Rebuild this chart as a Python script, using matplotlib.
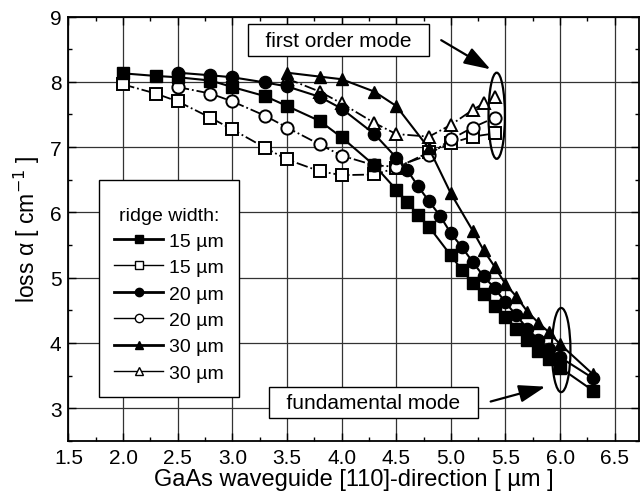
import matplotlib
matplotlib.use("Agg")
import matplotlib.pyplot as plt
from matplotlib.patches import Ellipse
from matplotlib.lines import Line2D
from matplotlib.ticker import MultipleLocator, FormatStrFormatter

plt.rcParams['font.family'] = ['Liberation Sans', 'DejaVu Sans']

# 15 um, fundamental mode (filled squares)
sq_f_x = [2.0, 2.3, 2.5, 2.8, 3.0, 3.3, 3.5, 3.8, 4.0, 4.3, 4.5, 4.6, 4.7, 4.8,
          5.0, 5.1, 5.2, 5.3, 5.4, 5.5, 5.6, 5.7, 5.8, 5.9, 6.0, 6.3]
sq_f_y = [8.13, 8.09, 8.07, 8.02, 7.92, 7.78, 7.63, 7.40, 7.15, 6.72, 6.35, 6.16, 5.96, 5.78,
          5.34, 5.12, 4.92, 4.75, 4.57, 4.39, 4.22, 4.04, 3.88, 3.75, 3.62, 3.27]
# 15 um, first order mode (open squares)
sq_o_x = [2.0, 2.3, 2.5, 2.8, 3.0, 3.3, 3.5, 3.8, 4.0, 4.3, 4.5, 4.8, 5.0, 5.2, 5.4]
sq_o_y = [7.96, 7.82, 7.70, 7.45, 7.27, 6.99, 6.81, 6.63, 6.57, 6.58, 6.68, 6.92, 7.06, 7.16, 7.21]
# 20 um, fundamental (filled circles)
ci_f_x = [2.5, 2.8, 3.0, 3.3, 3.5, 3.8, 4.0, 4.3, 4.5, 4.6, 4.7, 4.8, 4.9, 5.0, 5.1,
          5.2, 5.3, 5.4, 5.5, 5.6, 5.7, 5.8, 5.9, 6.0, 6.3]
ci_f_y = [8.14, 8.10, 8.07, 7.99, 7.93, 7.77, 7.59, 7.20, 6.84, 6.65, 6.40, 6.17, 5.95, 5.68, 5.47,
          5.24, 5.02, 4.84, 4.62, 4.42, 4.22, 4.05, 3.90, 3.78, 3.46]
# 20 um, first order (open circles)
ci_o_x = [2.5, 2.8, 3.0, 3.3, 3.5, 3.8, 4.0, 4.3, 4.5, 4.8, 5.0, 5.2, 5.4]
ci_o_y = [7.92, 7.82, 7.70, 7.48, 7.30, 7.04, 6.87, 6.72, 6.70, 6.88, 7.12, 7.30, 7.45]
# 30 um, fundamental (filled triangles)
tri_f_x = [3.5, 3.8, 4.0, 4.3, 4.5, 4.8, 5.0, 5.2, 5.3, 5.4, 5.5, 5.6, 5.7, 5.8, 5.9, 6.0, 6.3]
tri_f_y = [8.14, 8.08, 8.04, 7.85, 7.63, 6.98, 6.29, 5.72, 5.42, 5.17, 4.90, 4.71, 4.48, 4.31,
           4.16, 3.98, 3.52]
# 30 um, first order (open triangles)
tri_o_x = [3.5, 3.8, 4.0, 4.3, 4.5, 4.8, 5.0, 5.2, 5.3, 5.4]
tri_o_y = [8.05, 7.85, 7.67, 7.37, 7.20, 7.16, 7.34, 7.57, 7.67, 7.77]

labels = ['15 µm', '15 µm', '20 µm', '20 µm', '30 µm', '30 µm']

fig = plt.figure(figsize=(6.4, 5.02), dpi=100)
ax = fig.add_axes([0.107, 0.120, 0.891, 0.845])

ms = 8.8
open_kw = dict(color='black', mfc='white', mec='black', mew=1.4, lw=1.3, ls='-.', ms=ms)
fill_kw = dict(color='black', mfc='black', mec='black', lw=1.5, ls='-', ms=ms)

ax.plot(sq_o_x, sq_o_y, marker='s', **open_kw)
ax.plot(ci_o_x, ci_o_y, marker='o', **open_kw)
ax.plot(tri_o_x, tri_o_y, marker='^', **open_kw)
ax.plot(sq_f_x, sq_f_y, marker='s', **fill_kw)
ax.plot(ci_f_x, ci_f_y, marker='o', **fill_kw)
ax.plot(tri_f_x, tri_f_y, marker='^', **fill_kw)

ax.set_xlim(1.5, 6.72)
ax.set_ylim(2.5, 9)
ax.xaxis.set_major_locator(MultipleLocator(0.5))
ax.xaxis.set_minor_locator(MultipleLocator(0.25))
ax.yaxis.set_major_locator(MultipleLocator(1))
ax.yaxis.set_minor_locator(MultipleLocator(0.5))
ax.xaxis.set_major_formatter(FormatStrFormatter('%.1f'))
ax.tick_params(which='both', direction='in', top=True, right=True, labelsize=15)
ax.tick_params(which='major', length=6, width=1.0, pad=5)
ax.tick_params(which='minor', length=3, width=1.0)
ax.grid(True, which='major', color='#333333', lw=0.9)
for s in ax.spines.values():
    s.set_linewidth(1.3)

ax.set_xlabel('GaAs waveguide [110]-direction [ µm ]', fontsize=17, labelpad=1)
ax.set_ylabel('loss α [ cm$^{-1}$ ]', fontsize=16.5, labelpad=6)

# ellipses around the modes
ax.add_patch(Ellipse((5.42, 7.48), 0.15, 1.32, fill=False, ec='black', lw=1.6, zorder=5))
ax.add_patch(Ellipse((6.01, 3.89), 0.17, 1.29, fill=False, ec='black', lw=1.6, zorder=5))

box = dict(boxstyle='square,pad=0.3', fc='white', ec='black', lw=1.0)
ax.text(3.97, 8.64, '  first order mode  ', fontsize=15, ha='center', va='center',
        bbox=box, zorder=6)
ax.text(4.29, 3.09, '  fundamental mode  ', fontsize=15, ha='center', va='center',
        bbox=box, zorder=6)
arrow = dict(arrowstyle='-|>,head_length=0.9,head_width=0.3', color='black', lw=1.6,
             mutation_scale=18)
ax.annotate('', xy=(5.385, 8.17), xytext=(4.89, 8.66), arrowprops=arrow, zorder=6)
ax.annotate('', xy=(5.89, 3.34), xytext=(5.34, 3.09), arrowprops=arrow, zorder=6)

handles = []
for m, filled in [('s', True), ('s', False), ('o', True), ('o', False), ('^', True), ('^', False)]:
    handles.append(Line2D([], [], color='black', marker=m, ms=6,
                          mfc='black' if filled else 'white', mec='black',
                          lw=2.0 if filled else 1.0))
leg = ax.legend(handles, labels, title='\nridge width:', loc='upper left',
                bbox_to_anchor=(0.036, 0.638), fontsize=14, title_fontsize=14,
                frameon=True, fancybox=False, edgecolor='black', framealpha=1,
                handlelength=2.5, handletextpad=0.3, labelspacing=0.45, borderpad=0.8)
leg.get_title().set_linespacing(0.55)
leg.get_frame().set_linewidth(1.0)
leg.set_zorder(7)

fig.savefig('out.png', dpi=100)
